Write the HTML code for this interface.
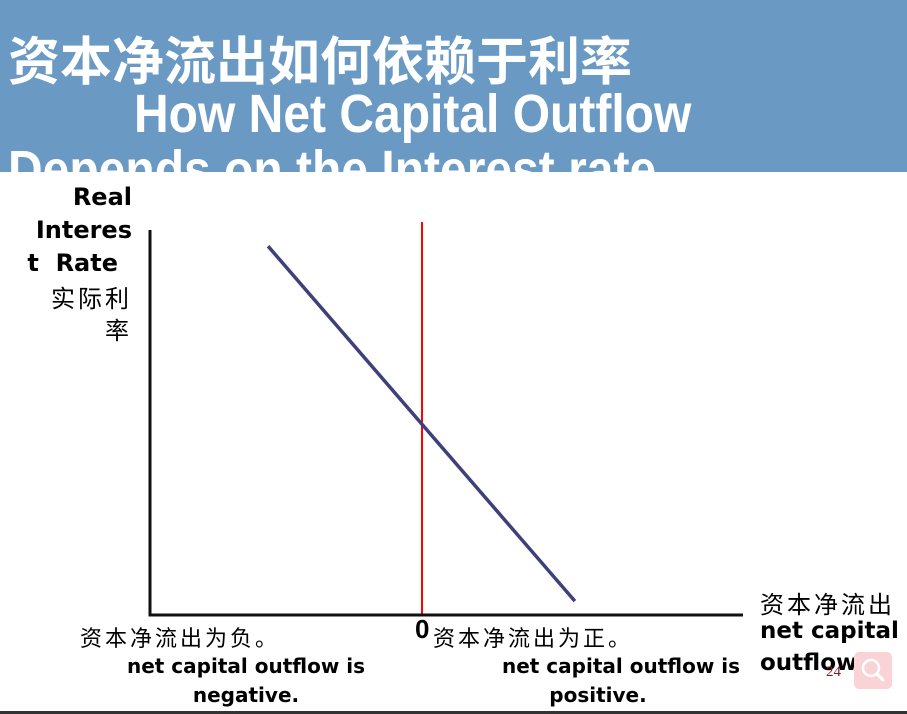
<!DOCTYPE html>
<html><head><meta charset="utf-8"><style>
body{margin:0;width:907px;height:714px;overflow:hidden;background:#fff;position:relative;font-family:"Liberation Sans","Noto Sans CJK SC",sans-serif}
.t{position:absolute;white-space:nowrap}
.b{font-weight:bold}
.d{font-family:"DejaVu Sans","Noto Sans CJK SC",sans-serif;font-weight:bold}
</style></head><body>
<div style="position:absolute;left:0;top:0;width:907px;height:172px;background:#6a9ac3;overflow:hidden">
<div class="t b" style="left:8px;top:28px;font-size:52px;color:#fff;font-family:'Noto Sans CJK SC',sans-serif;line-height:60px">资本净流出如何依赖于利率</div>
<div class="t b" style="left:134px;top:84px;font-size:48px;line-height:56px;color:#fff;transform:scaleY(1.12);transform-origin:left top">How Net Capital Outflow</div>
<div class="t b" style="left:8px;top:140px;font-size:48px;line-height:56px;color:#fff;transform:scaleY(1.12);transform-origin:left top">Depends on the Interest rate</div>
</div>
<svg width="907" height="714" style="position:absolute;left:0;top:0" id="svg"></svg>
<div class="t d" style="left:10px;top:181px;width:122px;text-align:right;font-size:24px;line-height:33px">Real<br>Interes<br><span style="margin-right:14px">t&nbsp; Rate</span></div>
<div class="t" style="left:10px;top:281px;width:122px;text-align:right;font-size:24px;line-height:32px;letter-spacing:3px;font-family:'Noto Sans CJK SC',sans-serif">实际利<br>率</div>
<div class="t b" style="left:415px;top:614px;font-size:26px">0</div>
<div class="t" style="left:80px;top:621px;font-size:22px;letter-spacing:3px;font-family:'Noto Sans CJK SC',sans-serif">资本净流出为负。</div>
<div class="t d" style="left:106px;top:652px;width:280px;text-align:center;font-size:20px;line-height:29px">net capital outflow is<br>negative.</div>
<div class="t" style="left:433px;top:621px;font-size:22px;letter-spacing:3px;font-family:'Noto Sans CJK SC',sans-serif">资本净流出为正。</div>
<div class="t d" style="left:481px;top:652px;width:280px;text-align:center;font-size:20px;line-height:29px">net capital outflow is<br><span style="position:relative;left:-23px">positive.</span></div>
<div class="t" style="left:760px;top:585px;font-size:24px;letter-spacing:3px;font-family:'Noto Sans CJK SC',sans-serif">资本净流出</div>
<div class="t d" style="left:760px;top:615px;font-size:23px;line-height:32px">net capital<br>outflow</div>
<div class="t" style="left:826px;top:664px;font-size:15px;color:#8b1a1a;font-family:'Liberation Serif',serif">24</div>
<div style="position:absolute;left:854px;top:652px;width:38px;height:37px;background:#f9d3d5;border-radius:5px">
<svg width="38" height="37"><circle cx="17" cy="16" r="8" fill="none" stroke="#fff" stroke-width="2.5"/><line x1="23" y1="22" x2="29" y2="28" stroke="#fff" stroke-width="3" stroke-linecap="round"/></svg></div>
<div style="position:absolute;left:0;top:711px;width:907px;height:3px;background:#333"></div>
<script>
const xDomain=[-10,11.8];
const yDomain=[0,10];
const zeroLineX=[0];
const curveX=[-5.66,5.62];
const curveY=[9.58,0.36];
const X0=150,X1=743,Y0=615,Y1=230;
function sx(v){return X0+(v-xDomain[0])/(xDomain[1]-xDomain[0])*(X1-X0);}
function sy(v){return Y0-(v-yDomain[0])/(yDomain[1]-yDomain[0])*(Y0-Y1);}
const svg=document.getElementById('svg');
function ln(x1,y1,x2,y2,c,w,name){
 const l=document.createElementNS('http://www.w3.org/2000/svg','line');
 l.setAttribute('x1',x1);l.setAttribute('y1',y1);l.setAttribute('x2',x2);l.setAttribute('y2',y2);
 l.setAttribute('stroke',c);l.setAttribute('stroke-width',w);
 
 
 svg.appendChild(l);return l;}
ln(sx(zeroLineX[0]),222,sx(zeroLineX[0]),Y0,'#ff0000',2,'zero-line');
ln(X0,Y1,X0,Y0+1.5,'#111',3,'y-axis');
ln(X0-1.5,Y0,X1,Y0,'#111',3,'x-axis');
ln(sx(curveX[0]),sy(curveY[0]),sx(curveX[1]),sy(curveY[1]),'#3f4079',3.5,'nco-curve');
</script>
</body></html>
